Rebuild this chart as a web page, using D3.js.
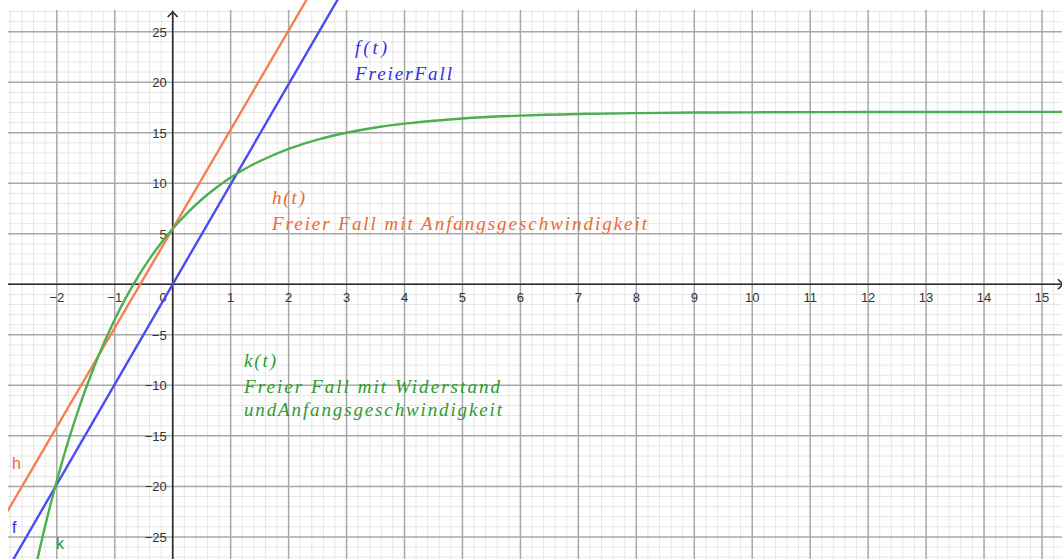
<!DOCTYPE html>
<html>
<head>
<meta charset="utf-8">
<script src="https://cdn.jsdelivr.net/npm/d3@7"></script>
<style>
  body { margin: 0; background: #fff; }
  svg { display: block; }
  .tick-label { font-family: "Liberation Sans", Arial, sans-serif; font-size: 13px; fill: #333; }
  .fn-name { font-family: "Liberation Sans", Arial, sans-serif; font-size: 16px; }
  .tex { font-family: "Liberation Serif", "DejaVu Serif", serif; font-style: italic; font-size: 19px; }
</style>
</head>
<body>
<div id="chart"></div>
<script>
// tick labels on both axes
var xTicks = [-2, -1, 1, 2, 3, 4, 5, 6, 7, 8, 9, 10, 11, 12, 13, 14, 15];
var yTicks = [-25, -20, -15, -10, -5, 5, 10, 15, 20, 25];

// f(t) free fall, h(t) free fall with start speed (straight lines, read at the ends)
var fT = [-3, 3];
var fV = [-29.7, 29.7];
var hT = [-3, 3];
var hV = [-23.93, 34.93];

// k(t) free fall with drag and start speed
var kT = [-2.4, -2.2, -2, -1.8, -1.6, -1.4, -1.2, -1, -0.8, -0.6, -0.4, -0.2, 0, 0.25, 0.5, 0.75, 1, 1.25, 1.5, 2, 2.5, 3, 3.5, 4, 5, 6, 7, 8, 9, 10, 12, 14, 15.5];
var kV = [-28.89, -23.90, -19.45, -15.48, -11.95, -8.80, -5.99, -3.48, -1.25, 0.74, 2.51, 4.09, 5.50, 7.05, 8.39, 9.55, 10.56, 11.43, 12.18, 13.40, 14.32, 15.00, 15.52, 15.90, 16.41, 16.69, 16.85, 16.94, 17.00, 17.02, 17.05, 17.06, 17.06];

var width = 1062, height = 559;
var padLeft = 8, padTop = 10;

var svg = d3.select("#chart").append("svg")
    .attr("width", width)
    .attr("height", height);

// scales: origin at (172.7, 284.3), 57.9 px per second, 10.1 px per unit
var xScale = d3.scaleLinear().domain([0, 15]).range([172.7, 1042]);
var yScale = d3.scaleLinear().domain([0, 25]).range([284.3, 31.7]);

var defs = svg.append("defs");
defs.append("clipPath").attr("id", "gridClip")
  .append("rect").attr("x", padLeft).attr("y", padTop).attr("width", width - padLeft).attr("height", height - padTop);
defs.append("clipPath").attr("id", "plotClip")
  .append("rect").attr("x", padLeft).attr("y", 0).attr("width", width - padLeft).attr("height", height);

var grid = svg.append("g").attr("clip-path", "url(#gridClip)");

// minor grid
var minorX = d3.range(-15, 78).map(function(i) { return i / 5; }).filter(function(d) { return d % 1 !== 0; });
var minorY = d3.range(-28, 29).filter(function(d) { return d % 5 !== 0; });
var majorX = d3.range(-3, 16);
var majorY = d3.range(-25, 30, 5);

grid.selectAll(".minx").data(minorX).enter().append("line")
    .attr("x1", function(d) { return xScale(d); }).attr("x2", function(d) { return xScale(d); })
    .attr("y1", 0).attr("y2", height)
    .attr("stroke", "#e6e6e6").attr("stroke-width", 1);
grid.selectAll(".miny").data(minorY).enter().append("line")
    .attr("y1", function(d) { return yScale(d); }).attr("y2", function(d) { return yScale(d); })
    .attr("x1", 0).attr("x2", width)
    .attr("stroke", "#e6e6e6").attr("stroke-width", 1);

// major grid
grid.selectAll(".majx").data(majorX).enter().append("line")
    .attr("x1", function(d) { return xScale(d); }).attr("x2", function(d) { return xScale(d); })
    .attr("y1", 0).attr("y2", height)
    .attr("stroke", "#a8a8a8").attr("stroke-width", 1.5);
grid.selectAll(".majy").data(majorY).enter().append("line")
    .attr("y1", function(d) { return yScale(d); }).attr("y2", function(d) { return yScale(d); })
    .attr("x1", 0).attr("x2", width)
    .attr("stroke", "#a8a8a8").attr("stroke-width", 1.5);

// axes
var x0 = xScale(0), y0 = yScale(0);
svg.append("line").attr("x1", padLeft).attr("x2", width).attr("y1", y0).attr("y2", y0)
    .attr("stroke", "#2a2a2a").attr("stroke-width", 1.6);
svg.append("line").attr("x1", x0).attr("x2", x0).attr("y1", 12).attr("y2", height)
    .attr("stroke", "#2a2a2a").attr("stroke-width", 1.6);
svg.append("path").attr("d", "M" + (x0 - 5) + "," + 17 + "L" + x0 + "," + 12 + "L" + (x0 + 5) + "," + 17)
    .attr("fill", "none").attr("stroke", "#2a2a2a").attr("stroke-width", 1.6);
svg.append("path").attr("d", "M" + 1058 + "," + (y0 - 5) + "L" + 1063 + "," + y0 + "L" + 1058 + "," + (y0 + 5))
    .attr("fill", "none").attr("stroke", "#2a2a2a").attr("stroke-width", 1.6);

// tick labels
svg.selectAll(".xl").data(xTicks).enter().append("text")
    .attr("class", "tick-label")
    .attr("x", function(d) { return xScale(d); })
    .attr("y", y0 + 18)
    .attr("text-anchor", "middle")
    .text(function(d) { return d < 0 ? "\u2212" + Math.abs(d) : d; });
svg.selectAll(".yl").data(yTicks).enter().append("text")
    .attr("class", "tick-label")
    .attr("x", x0 - 6)
    .attr("y", function(d) { return yScale(d) + 5; })
    .attr("text-anchor", "end")
    .text(function(d) { return d < 0 ? "\u2212" + Math.abs(d) : d; });
svg.append("text").attr("class", "tick-label")
    .attr("x", x0 - 6).attr("y", y0 + 18).attr("text-anchor", "end").text("0");

// curves
var plot = svg.append("g").attr("clip-path", "url(#plotClip)");
var line = d3.line()
    .x(function(d) { return xScale(d[0]); })
    .y(function(d) { return yScale(d[1]); });

plot.append("path").datum(d3.zip(hT, hV))
    .attr("d", line).attr("fill", "none").attr("stroke", "#f58152").attr("stroke-width", 2.4);
plot.append("path").datum(d3.zip(fT, fV))
    .attr("d", line).attr("fill", "none").attr("stroke", "#4b4bf5").attr("stroke-width", 2.4);
plot.append("path").datum(d3.zip(kT, kV))
    .attr("d", line.curve(d3.curveCatmullRom)).attr("fill", "none").attr("stroke", "#4caf50").attr("stroke-width", 2.4);

// curve names near the bottom left
svg.append("text").attr("class", "fn-name").attr("x", 12).attr("y", 469).attr("fill", "#f06a30").text("h");
svg.append("text").attr("class", "fn-name").attr("x", 12).attr("y", 533).attr("fill", "#2b2bd8").text("f");
svg.append("text").attr("class", "fn-name").attr("x", 56).attr("y", 549).attr("fill", "#2a962a").text("k");

// formula style captions
function caption(x, y, color, lines) {
  lines.forEach(function(l, i) {
    svg.append("text").attr("class", "tex")
        .attr("x", x).attr("y", y + i * 26)
        .attr("fill", color)
        .attr("textLength", l[1]).attr("lengthAdjust", "spacing")
        .text(l[0]);
  });
}
caption(355, 54, "#2f2fe6", [["f(t)", 32], ["FreierFall", 97]]);
caption(272, 204, "#ee6a30", [["h(t)", 33], ["Freier Fall mit Anfangsgeschwindigkeit", 375]]);
caption(244, 367, "#2e9b2e", [["k(t)", 32], ["Freier Fall mit Widerstand", 256]]);
svg.append("text").attr("class", "tex").attr("x", 244).attr("y", 416).attr("fill", "#2e9b2e")
    .attr("textLength", 258).attr("lengthAdjust", "spacing").text("undAnfangsgeschwindigkeit");
</script>
</body>
</html>
